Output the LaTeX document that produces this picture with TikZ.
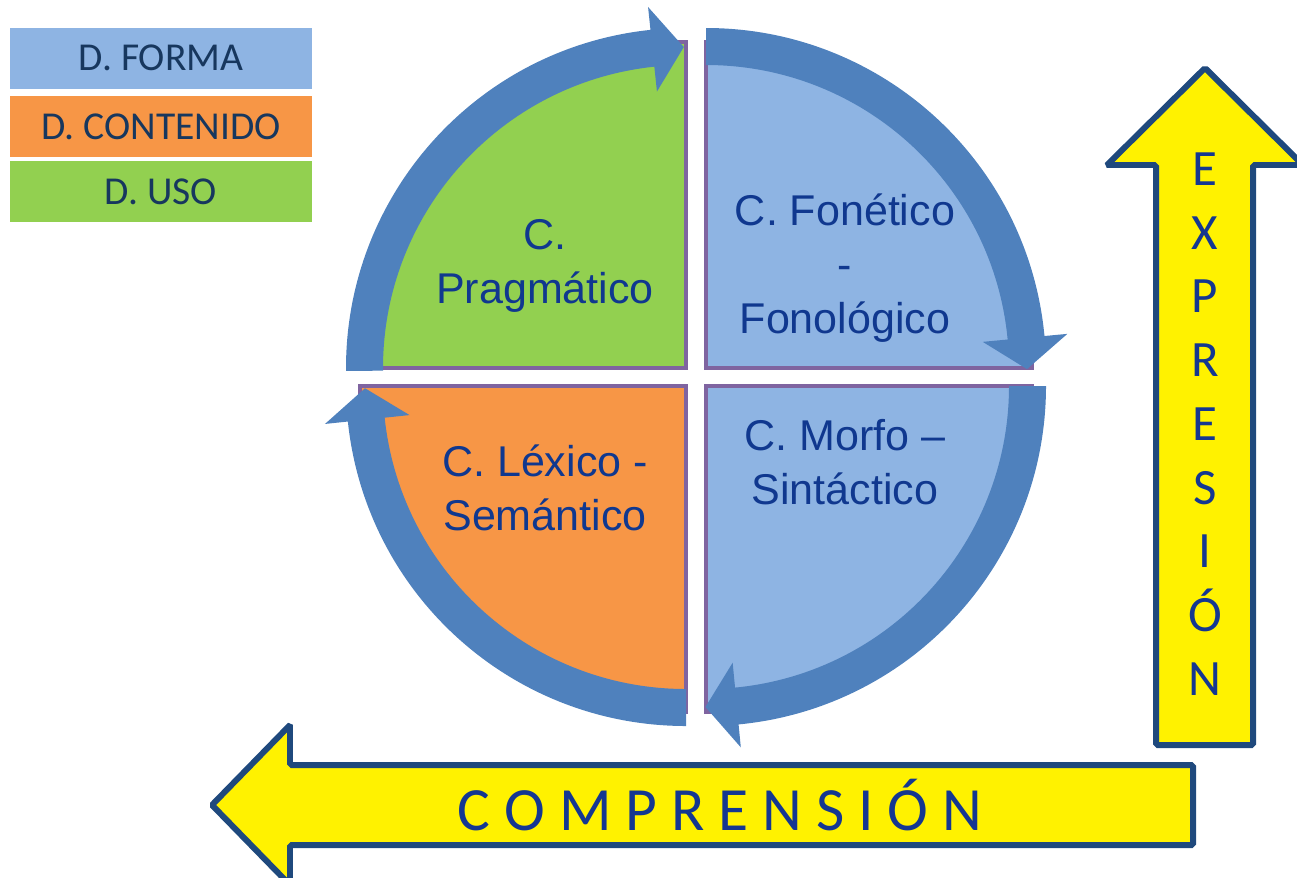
\documentclass[tikz,border=0pt]{standalone}
\usepackage{fontspec}
\newfontfamily\arialfont{Liberation Sans}
\newfontfamily\calibrifont{Carlito}
\usetikzlibrary{positioning}
\definecolor{forma}{HTML}{8EB4E3}
\definecolor{contenido}{HTML}{F79646}
\definecolor{uso}{HTML}{92D050}
\definecolor{ring}{HTML}{4F81BD}
\definecolor{quadline}{HTML}{7F64A0}
\definecolor{legendtxt}{HTML}{17375E}
\definecolor{quadtxt}{HTML}{10388F}
\definecolor{arrowline}{HTML}{1F497D}
\definecolor{arrowtxt}{HTML}{143791}
\tikzset{
    legendbox/.style={
                inner sep=0pt,
                minimum width=6.04cm,
                minimum height=1.22cm,
                text=legendtxt,
                font=\calibrifont\fontsize{22.5}{27}\selectfont
            },
        quadrant/.style={
                draw=quadline,
                line width=2.2pt
            },
        quadtext/.style={
                align=center,
                text=quadtxt,
                font=\arialfont\fontsize{24.5}{30.8}\selectfont
            },
        ringarrow/.style={fill=ring},
        bigarrow/.style={
                fill=yellow,
                draw=arrowline,
                line width=3.4pt,
                rounded corners=1pt
            },
        arrowtext/.style={
                align=center,
                text=arrowtxt,
                inner sep=0pt
            }
}

\begin{document}
\begin{tikzpicture}[x=0.02cm,y=0.02cm]
  \useasboundingbox (0,0) rectangle (1297,-877);
  % Legend
  \node[legendbox,fill=forma] (forma) at (161,-58) {D. FORMA};
  \node[legendbox,fill=contenido,below=0.14cm of forma] (contenido) {D. CONTENIDO};
  \node[legendbox,fill=uso,below=0.06cm of contenido] (uso) {D. USO};
  % Quadrants
  \filldraw[quadrant,fill=uso] (686,-368) -- (686,-42) arc[start angle=90,end angle=180,radius=326] -- cycle;
  \filldraw[quadrant,fill=forma] (706,-368) -- (1032,-368) arc[start angle=0,end angle=90,radius=326] -- cycle;
  \filldraw[quadrant,fill=contenido] (686,-386) -- (360,-386) arc[start angle=180,end angle=270,radius=326] -- cycle;
  \filldraw[quadrant,fill=forma] (706,-386) -- (706,-712) arc[start angle=270,end angle=360,radius=326] -- cycle;
  % Ring arrows
  \foreach \cx/\cy/\sa/\ba in {686/-368/180.5/96, 706/-368/90/5.4, 706/-386/360/275.5, 686/-386/270/186}{
    \pgfmathsetmacro{\ta}{\ba-5.6}
    \fill[ringarrow,shift={(\cx,\cy)}] (\sa:340) arc[start angle=\sa,end angle=\ba,radius=340]
      -- (\ba:363) -- (\ta:321) -- (\ba:278) -- (\ba:303)
      arc[start angle=\ba,end angle=\sa,radius=303] -- cycle;
  }
  % Quadrant texts
  \node[quadtext] (pragmatico) at (545,-266) {C.\\Pragmático};
  \node[quadtext] (fonetico) at (845,-268) {C. Fonético\\-\\Fonológico};
  \node[quadtext] (lexico) at (545,-488) {C. Léxico -\\Semántico};
  \node[quadtext] (morfo) at (845,-462) {C. Morfo –\\Sintáctico};
  % Expresion and comprension
  \draw[bigarrow] (1205,-68) -- (1303,-165) -- (1253,-165) -- (1253,-745)
    -- (1156,-745) -- (1156,-165) -- (1107,-165) -- cycle;
  \node[arrowtext,font=\calibrifont\fontsize{29}{36.3}\selectfont] (expresion) at (1205,-424)
    {E\\X\\P\\R\\E\\S\\I\\Ó\\N};
  \draw[bigarrow] (212,-805) -- (290,-725) -- (290,-765) -- (1193,-765) -- (1193,-845)
    -- (290,-845) -- (290,-885) -- cycle;
  \node[arrowtext,font=\calibrifont\fontsize{35}{42}\selectfont] (comprension) at (720,-805)
    {C O M P R E N S I Ó N};
\end{tikzpicture}
\end{document}
